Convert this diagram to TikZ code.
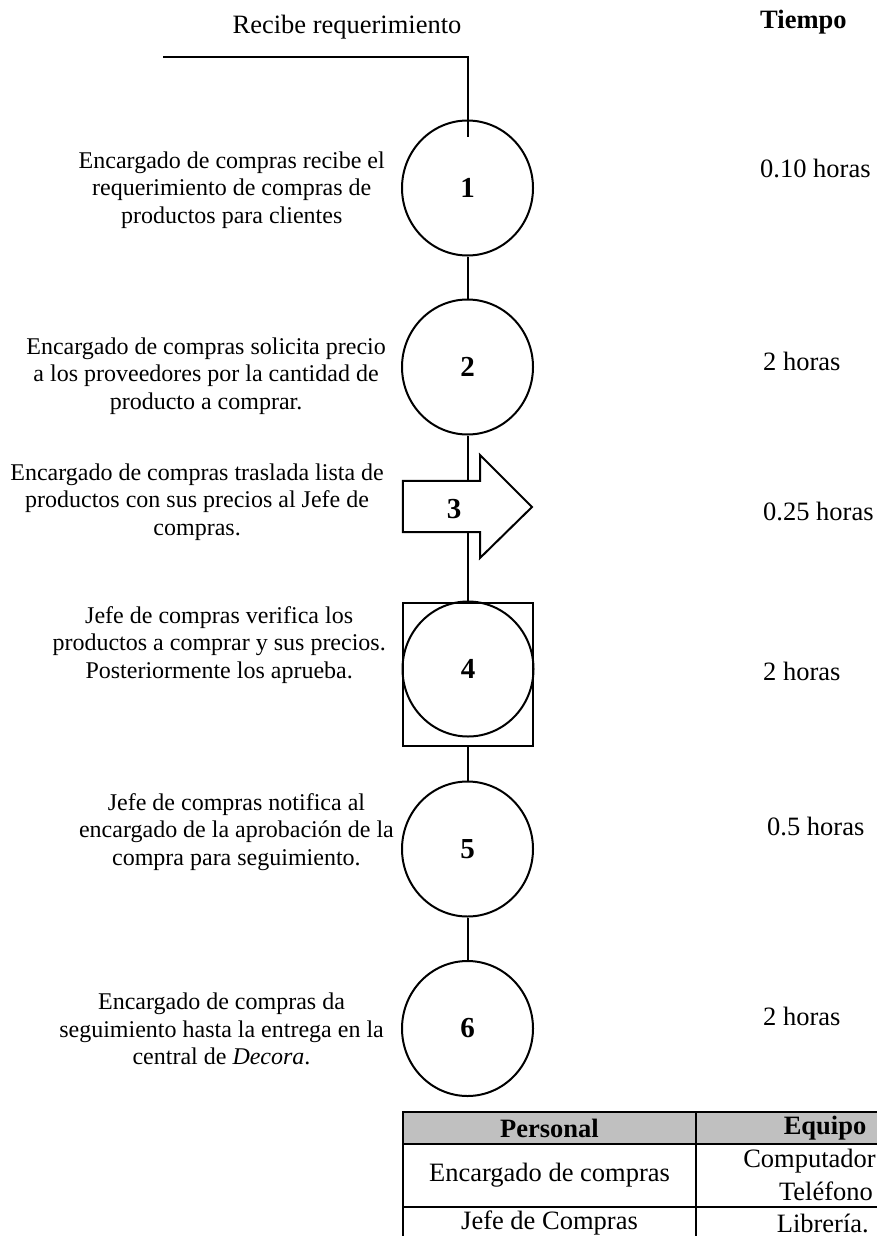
\documentclass[tikz,border=0pt]{standalone}
\usepackage{fontspec}
\setmainfont{Liberation Serif}
\usetikzlibrary{shapes.geometric,calc}
\definecolor{headgray}{HTML}{C0C0C0}
\begin{document}
\begin{tikzpicture}[x=1pt,y=-1pt,
  flow/.style={line width=2pt},
  opcircle/.style={draw, line width=2pt, ellipse, minimum width=131pt, minimum height=135pt, inner sep=0pt,
    font=\fontsize{29}{29}\selectfont\bfseries},
  desc/.style={align=center, inner sep=0pt, anchor=east, font=\fontsize{24}{27.6}\selectfont},
  timetxt/.style={inner sep=0pt, anchor=west, font=\fontsize{26.5}{30}\selectfont},
  cell/.style={draw, line width=1.3pt, inner sep=0pt},
  celltxt/.style={inner sep=0pt, font=\fontsize{26.5}{30}\selectfont},
]
\useasboundingbox (0,0) rectangle (877,1236);

% headings
\node[inner sep=0pt, font=\fontsize{26.5}{30}\selectfont] (recibe) at (347,27) {Recibe requerimiento};
\node[timetxt, font=\fontsize{26.5}{30}\selectfont\bfseries] (tiempo) at (760,22) {Tiempo};

% operations
\node[opcircle] (c1) at (467.5,188) {1};
\node[opcircle] (c2) at (467.5,367) {2};

% transport arrow 3: shaft box plus head
\node[minimum width=77pt, minimum height=51pt, inner sep=0pt] (a3) at (441.5,506.5) {};
\draw[flow, line join=miter]
  (a3.north west) -- (a3.north east) -- (480,455) -- (532,507) -- (480,558)
  -- (a3.south east) -- (a3.south west) -- cycle;
\node[font=\fontsize{29}{29}\selectfont\bfseries] (n3) at (454,509) {3};

% combined inspection / operation 4
\node[draw, line width=2pt, minimum width=130pt, minimum height=143pt, inner sep=0pt] (s4) at (468,674.5) {};
\node[opcircle] (c4) at (468,669) {4};

\node[opcircle] (c5) at (467.5,849) {5};
\node[opcircle] (c6) at (467.5,1028.5) {6};

% connectors
\coordinate (start) at (163,57);
\draw[flow] (start) -- (467.5,57) -- ($(c1.north)+(0,17)$);
\draw[flow] (c1.south) -- (c2.north);
\draw[flow] (c2.south) -- (c2.south |- a3.north);
\draw[flow] (c2.south |- a3.south) -- (c2.south |- s4.north);
\draw[flow] (c2.south |- s4.south) -- (c5.north);
\draw[flow] (c5.south) -- (c6.north);

% descriptions
\node[desc] (d1) at (385,190) {Encargado de compras recibe el\\requerimiento de compras de\\productos para clientes};
\node[desc] (d2) at (386,376) {Encargado de compras solicita precio\\a los proveedores por la cantidad de\\producto a comprar.};
\node[desc] (d3) at (384,502) {Encargado de compras traslada lista de\\productos con sus precios al Jefe de\\compras.};
\node[desc] (d4) at (386,645) {Jefe de compras verifica los\\productos a comprar y sus precios.\\Posteriormente los aprueba.};
\node[desc] (d5) at (394,832) {Jefe de compras notifica al\\encargado de la aprobación de la\\compra para seguimiento.};
\node[desc] (d6) at (384,1029) {Encargado de compras da\\seguimiento hasta la entrega en la\\central de \textit{Decora}.};

% times
\node[timetxt] (t1) at (760,168) {0.10 horas};
\node[timetxt] (t2) at (763,361) {2 horas};
\node[timetxt] (t3) at (763,511) {0.25 horas};
\node[timetxt] (t4) at (763,671) {2 horas};
\node[timetxt] (t5) at (767,826) {0.5 horas};
\node[timetxt] (t6) at (763,1016) {2 horas};

% resources table
\node[cell, fill=headgray, minimum width=293pt, minimum height=32pt] (h1) at (549.5,1128) {};
\node[cell, fill=headgray, minimum width=220pt, minimum height=32pt] (h2) at (806,1128) {};
\node[cell, minimum width=293pt, minimum height=63pt] (r1a) at (549.5,1175.5) {};
\node[cell, minimum width=220pt, minimum height=63pt] (r1b) at (806,1175.5) {};
\node[cell, minimum width=293pt, minimum height=80pt] (r2a) at (549.5,1247) {};
\node[cell, minimum width=220pt, minimum height=80pt] (r2b) at (806,1247) {};
\node[celltxt, font=\fontsize{26.5}{30}\selectfont\bfseries] at (h1.center) {Personal};
\node[celltxt, font=\fontsize{26.5}{30}\selectfont\bfseries] at (825,1128) {Equipo};
\node[celltxt] at (r1a.center) {Encargado de compras};
\node[celltxt, anchor=east] at (876,1161) {Computador};
\node[celltxt, anchor=east] at (873,1191) {Teléfono};
\node[celltxt] at (549.5,1223) {Jefe de Compras};
\node[celltxt, anchor=east] at (869,1223) {Librería.};
\end{tikzpicture}
\end{document}
